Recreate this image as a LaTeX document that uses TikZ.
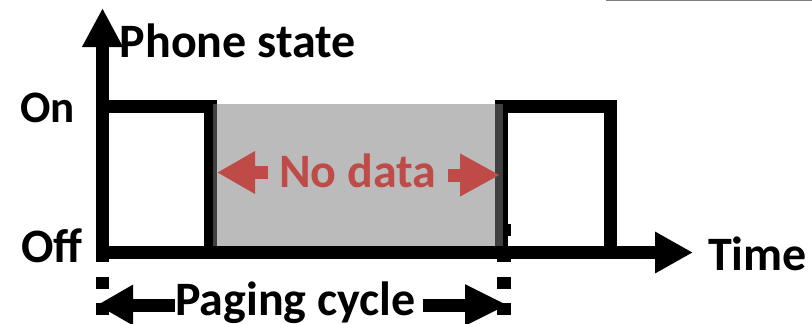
\documentclass[tikz,border=0pt]{standalone}
\usepackage{fontspec}
\setmainfont{Carlito}
\usetikzlibrary{arrows.meta}
\definecolor{nodatared}{RGB}{190,75,72}
\definecolor{boxgray}{RGB}{124,124,124}
\tikzset{
  lbl/.style={anchor=base west, inner sep=0pt, font=\fontsize{48bp}{52bp}\selectfont\bfseries},
  pulse/.style={line width=13bp, line join=miter, line cap=butt},
  axisline/.style={line width=12.5bp},
  cycledash/.style={line width=12.5bp, dash pattern=on 12bp off 14.5bp},
  bigtip/.style={-{Triangle[length=38bp,width=39bp]}},
}
\begin{document}
\begin{tikzpicture}[x=1bp,y=-1bp]
\useasboundingbox (0,0) rectangle (812,323);
% stray slide border
\draw[line width=1.5bp, gray] (606,0.5) -- (812,0.5);
% dashed cycle markers
\coordinate (dl0) at (102.5,315);
\coordinate (dl1) at (102.5,223.5);
\coordinate (dr0) at (504,315);
\coordinate (dr1) at (504,223.5);
\draw[cycledash] (dl0) -- (dl1);
\draw[cycledash, line width=14bp] (dr0) -- (dr1);
% pulses
\coordinate (p1a) at (102,106);
\coordinate (p1b) at (210.5,106);
\coordinate (p1c) at (210.5,252);
\coordinate (p2a) at (501.5,252);
\coordinate (p2b) at (501.5,106);
\coordinate (p2c) at (610.5,106);
\coordinate (p2d) at (610.5,252);
\draw[pulse] (p1a) -- (p1b) -- (p1c);
\draw[pulse] (p2a) -- (p2b) -- (p2c) -- (p2d);
% no-data box
\fill[boxgray, opacity=0.52] (213,104) rectangle (503,252);
% axes
\coordinate (yb) at (102.5,262);
\coordinate (yt) at (102.5,8);
\coordinate (xl) at (96.5,252.5);
\coordinate (xr) at (693,252.5);
\draw[axisline, -{Triangle[length=39bp,width=38bp]}] (yb) -- (yt);
\draw[axisline, line width=13bp, bigtip] (xl) -- (xr);
% labels
\node[lbl] (phone) at (119.5,57) {Phone state};
\node[lbl, font=\fontsize{45bp}{49bp}\selectfont\bfseries] (on) at (20,122.5) {On};
\node[lbl] (off) at (21,262.5) {Off};
\node[lbl] (time) at (708,270) {Time};
\node[lbl] (paging) at (175,315) {Paging cycle};
\node[lbl, text=nodatared] (nodata) at (279,187) {No data};
% no-data arrows
\coordinate (nl0) at (268,172.5);
\coordinate (nl1) at (217,172.5);
\coordinate (nr0) at (448,175);
\coordinate (nr1) at (500,175);
\draw[nodatared, line width=12.5bp, -{Triangle[length=38bp,width=40bp]}] (nl0) -- (nl1);
\draw[nodatared, line width=13bp, -{Triangle[length=40bp,width=40bp]}] (nr0) -- (nr1);
% paging cycle arrows
\coordinate (cl0) at (175,305);
\coordinate (cl1) at (97,305);
\coordinate (cr0) at (423,305);
\coordinate (cr1) at (508,305);
\draw[line width=13bp, -{Triangle[length=36bp,width=38bp]}] (cl0) -- (cl1);
\draw[line width=13bp, -{Triangle[length=43bp,width=38bp]}] (cr0) -- (cr1);
\end{tikzpicture}
\end{document}
